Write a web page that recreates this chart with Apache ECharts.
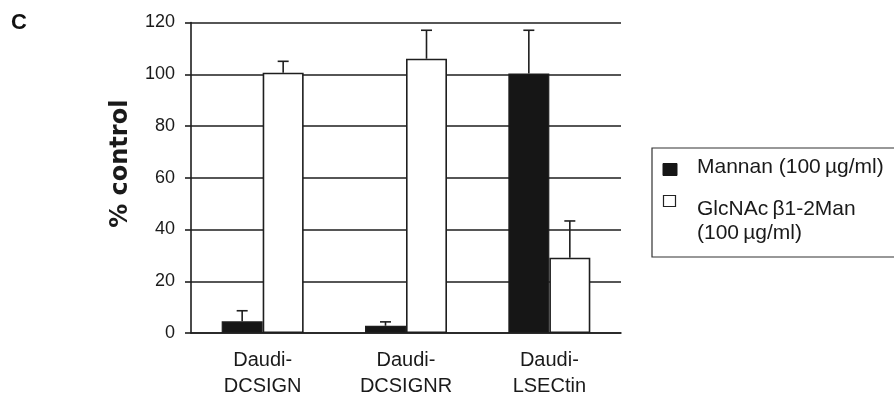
<!DOCTYPE html>
<html>
<head>
<meta charset="utf-8">
<script src="https://cdn.jsdelivr.net/npm/echarts@6/dist/echarts.min.js"></script>
<style>html,body{margin:0;padding:0;background:#fff}#c{width:894px;height:399px}</style>
</head>
<body>
<div id="c"></div>
<script>
const categories = ['Daudi-\nDCSIGN', 'Daudi-\nDCSIGNR', 'Daudi-\nLSECtin'];
const mannan = [4.5, 2.8, 100.3];
const mannanErrTop = [8.6, 4.3, 117];
const glcnac = [100.6, 106, 29.1];
const glcnacErrTop = [105, 117, 43.3];
const yTicks = [0, 20, 40, 60, 80, 100, 120];
const seriesNames = ['Mannan (100\u2009\u00b5g/ml)', 'GlcNAc\u2009\u03b21-2Man\n(100\u2009\u00b5g/ml)'];

const FONT = '"Liberation Sans", Arial, sans-serif';
const LINE = '#1e1e1e';
const BAR_FRAC = 0.286;

function errSeries(name, tops, bases, side) {
  return {
    type: 'custom',
    name: name + '-err',
    silent: true,
    z: 5,
    data: tops.map((t, i) => [i, bases[i], t]),
    renderItem: function (params, api) {
      const i = api.value(0);
      const band = api.size([1, 0])[0];
      const off = side * band * BAR_FRAC / 2;
      const p0 = api.coord([i, api.value(1)]);
      const p1 = api.coord([i, api.value(2)]);
      const x = p0[0] + off;
      const cap = 5.5;
      return {
        type: 'group',
        children: [
          {type: 'line', shape: {x1: x, y1: p0[1], x2: x, y2: p1[1]}, style: {stroke: LINE, lineWidth: 1.6}},
          {type: 'line', shape: {x1: x - cap, y1: p1[1], x2: x + cap, y2: p1[1]}, style: {stroke: LINE, lineWidth: 1.6}}
        ]
      };
    }
  };
}

const chart = echarts.init(document.getElementById('c'));
chart.setOption({
  animation: false,
  backgroundColor: '#fff',
  grid: {left: 191, right: 273, top: 22.5, bottom: 65, containLabel: false},
  xAxis: {
    type: 'category',
    data: categories,
    axisLine: {lineStyle: {color: LINE, width: 1.6}},
    axisTick: {show: false},
    axisLabel: {color: '#1a1a1a', fontFamily: FONT, fontSize: 20, lineHeight: 26, margin: 14}
  },
  yAxis: {
    type: 'value',
    min: 0, max: 120, interval: 20,
    name: '% control',
    nameLocation: 'middle',
    nameGap: 58,
    nameTextStyle: {fontFamily: '"DejaVu Sans", sans-serif', fontSize: 24, fontWeight: 'bold', color: '#1a1a1a', padding: [0, 0, 0, 28]},
    axisLine: {show: true, lineStyle: {color: LINE, width: 1.6}},
    axisTick: {show: true, length: 6, lineStyle: {color: LINE, width: 1.6}},
    axisLabel: {color: '#1a1a1a', fontFamily: FONT, fontSize: 18, margin: 16,
      formatter: v => yTicks.includes(v) ? String(v) : ''},
    splitLine: {show: true, lineStyle: {color: LINE, width: 1.6}}
  },
  series: [
    {
      type: 'bar', name: seriesNames[0], data: mannan,
      barWidth: (BAR_FRAC * 100) + '%', barGap: '0%',
      itemStyle: {color: '#161616', borderColor: LINE, borderWidth: 1.2},
      z: 3
    },
    {
      type: 'bar', name: seriesNames[1], data: glcnac,
      barWidth: (BAR_FRAC * 100) + '%', barGap: '0%',
      itemStyle: {color: '#ffffff', borderColor: LINE, borderWidth: 1.6},
      z: 3
    },
    errSeries('m', mannanErrTop, mannan, -1),
    errSeries('g', glcnacErrTop, glcnac, 1)
  ],
  graphic: [
    {type: 'text', left: 11, top: 12, style: {text: 'C', font: 'bold 22px ' + FONT, fill: '#111'}},
    {type: 'rect', shape: {x: 652, y: 148, width: 260, height: 109}, style: {fill: 'none', stroke: '#333', lineWidth: 1.2}, z: 10},
    {type: 'rect', shape: {x: 663, y: 163.5, width: 14, height: 12}, style: {fill: '#161616', stroke: '#161616', lineWidth: 1}, z: 10},
    {type: 'text', x: 697, y: 167.5, style: {text: seriesNames[0], font: '21px ' + FONT, fill: '#1a1a1a', verticalAlign: 'middle'}, z: 10},
    {type: 'rect', shape: {x: 663.5, y: 195.5, width: 12, height: 11}, style: {fill: '#fff', stroke: '#222', lineWidth: 1.2}, z: 10},
    {type: 'text', x: 697, y: 197, style: {text: seriesNames[1], font: '21px ' + FONT, fill: '#1a1a1a', lineHeight: 24, verticalAlign: 'top'}, z: 10}
  ]
});
</script>
</body>
</html>
